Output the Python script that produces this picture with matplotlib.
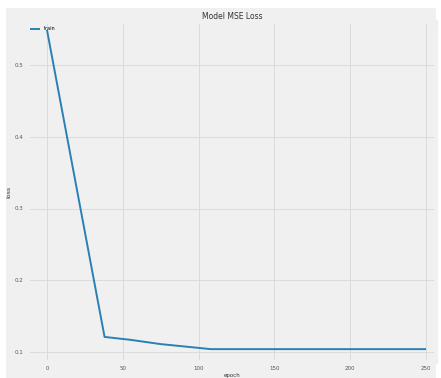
import matplotlib
matplotlib.use('Agg')
import matplotlib.pyplot as plt
from matplotlib.patches import Rectangle

plt.style.use('fivethirtyeight')

epochs = [0, 38, 55, 75, 94, 108, 150, 200, 250]
train_loss = [0.549, 0.121, 0.117, 0.111, 0.107, 0.104, 0.104, 0.104, 0.104]
x_ticks = [0, 50, 100, 150, 200, 250]
y_ticks = [0.1, 0.2, 0.3, 0.4, 0.5]

fig = plt.figure(figsize=(4.41, 3.78), dpi=100)
fig.patch.set_facecolor('white')
# grey panel with a thin white border, as in the screenshot
fig.patches.append(Rectangle((6 / 441, 0), 430 / 441, 370 / 378,
                             transform=fig.transFigure, facecolor='#f0f0f0',
                             edgecolor='none', zorder=-5))
ax = fig.add_axes([28 / 441, 1 - 362 / 378, 408 / 441, 340 / 378])
ax.set_facecolor('#f0f0f0')

ax.plot(epochs, train_loss, color='#2a80b4', linewidth=1.4, label='train')

ax.set_xlim(-12.5, 256.6)
ax.set_ylim(0.1 - 10 / 717.5, 0.1 + 330 / 717.5)
ax.set_xticks(x_ticks)
ax.set_yticks(y_ticks)
ax.tick_params(labelsize=4, colors='#555555', length=0, pad=3)
ax.grid(True, color='#d8d8d8', linewidth=0.6)

ax.set_title('Model MSE Loss', fontsize=5.5, pad=2, color='#333333')
ax.set_xlabel('epoch', fontsize=4, labelpad=1, color='#333333')
ax.set_ylabel('loss', fontsize=4.5, labelpad=3, color='#333333')
ax.legend(loc='upper left', fontsize=3.5, frameon=False, handlelength=2,
          bbox_to_anchor=(-0.005, 1.0))

fig.savefig('out.png', dpi=100, facecolor='white')
